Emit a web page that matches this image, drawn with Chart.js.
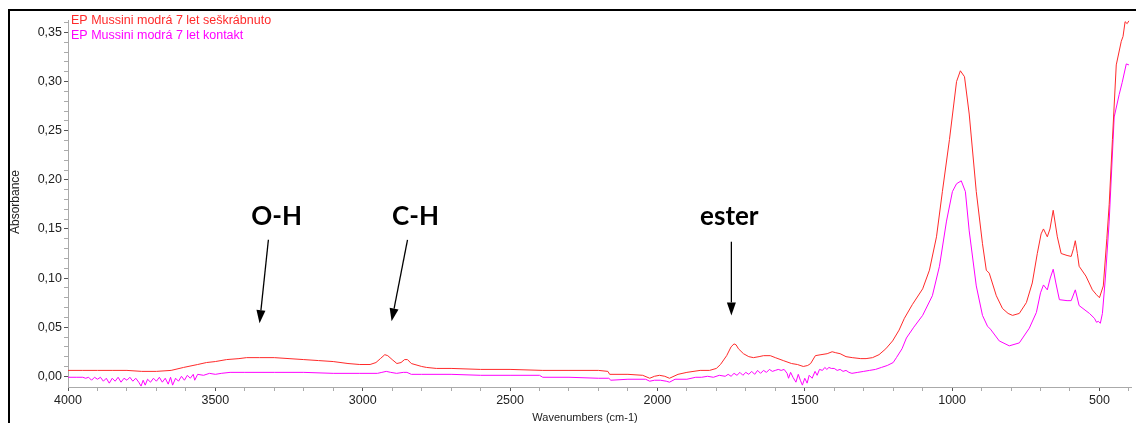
<!DOCTYPE html>
<html>
<head>
<meta charset="utf-8">
<title>EP Mussini modrá 7 let</title>
<script src="https://cdn.jsdelivr.net/npm/chart.js@4/dist/chart.umd.min.js"></script>
<style>
  body { margin: 0; background: #fff; }
  #frame {
    position: absolute; left: 8px; top: 9px;
    width: 1126px; height: 412px;
    border-left: 2px solid #000; border-top: 2px solid #000;
  }
  #spectrum { display: block; }
</style>
</head>
<body>
<div id="frame"><canvas id="spectrum" width="1126" height="412"></canvas></div>
<script>
// Series names
const seriesLabels = ["EP Mussini modrá 7 let seškrábnuto", "EP Mussini modrá 7 let kontakt"];
const seriesColors = ["#ff2a2a", "#ff00ff"];

// Scraped sample (red)
const scrapedWn = [
  4000, 3950, 3900, 3850, 3800, 3750, 3700, 3650, 3608, 3560, 3530, 3500, 3462, 3420, 3394, 3350,
  3300, 3250, 3200, 3150, 3100, 3050, 3010, 2975, 2955, 2940, 2925, 2915, 2900, 2884, 2870, 2858,
  2848, 2835, 2800, 2783, 2750, 2700, 2600, 2500, 2389, 2300, 2200, 2168, 2162, 2100, 2050, 2026,
  2010, 1993, 1975, 1959, 1930, 1900, 1855, 1823, 1800, 1786, 1765, 1750, 1740, 1733, 1725, 1708,
  1690, 1674, 1655, 1640, 1617, 1600, 1573, 1545, 1525, 1505, 1490, 1480, 1464, 1445, 1424, 1407,
  1395, 1380, 1360, 1339, 1310, 1292, 1270, 1248, 1225, 1202, 1180, 1162, 1135, 1100, 1077, 1053,
  1033, 1009, 985, 972, 958, 942, 918, 897, 884, 874, 850, 829, 810, 795, 772, 748,
  728, 711, 698, 690, 677, 668, 657, 643, 630, 610, 596, 588, 582, 575, 569, 546,
  524, 510, 500, 487, 475, 467, 456, 443, 426, 420, 413, 406, 400
];
const scrapedAbs = [
  0.006, 0.006, 0.006, 0.006, 0.006, 0.005, 0.005, 0.006, 0.009, 0.012, 0.014, 0.015, 0.017, 0.018, 0.019, 0.019,
  0.019, 0.018, 0.017, 0.016, 0.015, 0.013, 0.012, 0.012, 0.014, 0.018, 0.022, 0.021, 0.017, 0.013, 0.014, 0.017,
  0.017, 0.013, 0.010, 0.009, 0.008, 0.008, 0.007, 0.007, 0.006, 0.006, 0.006, 0.005, 0.002, 0.002, 0.001, -0.002,
  0.000, 0.001, 0.000, -0.002, 0.002, 0.004, 0.006, 0.006, 0.008, 0.012, 0.021, 0.030, 0.033, 0.032, 0.028, 0.023,
  0.020, 0.019, 0.020, 0.021, 0.021, 0.019, 0.016, 0.013, 0.012, 0.010, 0.011, 0.013, 0.021, 0.022, 0.023, 0.025,
  0.024, 0.023, 0.020, 0.019, 0.018, 0.018, 0.019, 0.022, 0.028, 0.036, 0.047, 0.059, 0.073, 0.089, 0.108, 0.142,
  0.188, 0.241, 0.300, 0.311, 0.305, 0.267, 0.188, 0.135, 0.108, 0.105, 0.082, 0.069, 0.064, 0.062, 0.064, 0.075,
  0.095, 0.125, 0.145, 0.150, 0.142, 0.150, 0.169, 0.142, 0.125, 0.123, 0.122, 0.130, 0.138, 0.125, 0.112, 0.102,
  0.088, 0.083, 0.080, 0.092, 0.140, 0.175, 0.241, 0.317, 0.341, 0.346, 0.361, 0.359, 0.362
];

// Contact sample (magenta)
const contactWn = [
  4000, 3970, 3950, 3940, 3930, 3920, 3910, 3900, 3890, 3880, 3870, 3860, 3850, 3840, 3830, 3820,
  3810, 3800, 3790, 3780, 3770, 3760, 3752, 3745, 3738, 3730, 3720, 3710, 3700, 3690, 3680, 3670,
  3660, 3652, 3645, 3635, 3625, 3615, 3605, 3595, 3585, 3575, 3570, 3560, 3540, 3520, 3500, 3480,
  3450, 3400, 3300, 3200, 3100, 3010, 2950, 2935, 2920, 2905, 2885, 2862, 2850, 2835, 2800, 2700,
  2600, 2500, 2400, 2389, 2300, 2200, 2165, 2158, 2100, 2040, 2026, 2010, 1990, 1970, 1959, 1940,
  1900, 1870, 1850, 1830, 1810, 1790, 1770, 1760, 1750, 1740, 1730, 1720, 1710, 1700, 1690, 1680,
  1670, 1660, 1650, 1640, 1630, 1620, 1610, 1600, 1590, 1580, 1570, 1560, 1555, 1548, 1540, 1530,
  1522, 1515, 1508, 1500, 1492, 1485, 1475, 1465, 1458, 1450, 1440, 1432, 1425, 1418, 1410, 1400,
  1390, 1380, 1370, 1360, 1350, 1340, 1320, 1300, 1280, 1260, 1240, 1220, 1200, 1189, 1170, 1155,
  1130, 1100, 1067, 1043, 1019, 999, 985, 969, 955, 942, 918, 897, 880, 870, 840, 806,
  772, 738, 714, 700, 690, 677, 667, 657, 648, 636, 610, 596, 582, 569, 534, 517,
  510, 504, 497, 490, 480, 467, 450, 433, 423, 409, 400
];
const contactAbs = [
  -0.001, -0.001, -0.001, -0.002, -0.001, -0.004, -0.001, -0.003, -0.001, -0.005, -0.002, -0.007, -0.002, -0.005, -0.001, -0.006,
  -0.002, -0.004, -0.001, -0.005, -0.002, -0.006, -0.010, -0.004, -0.009, -0.003, -0.006, -0.002, -0.005, -0.001, -0.006, -0.002,
  -0.008, -0.001, -0.009, -0.002, -0.005, 0.000, -0.004, 0.001, -0.002, 0.002, -0.004, 0.002, 0.001, 0.003, 0.002, 0.003,
  0.004, 0.004, 0.004, 0.004, 0.003, 0.003, 0.003, 0.004, 0.005, 0.004, 0.003, 0.004, 0.004, 0.002, 0.002, 0.002,
  0.001, 0.001, 0.001, -0.001, -0.001, -0.002, -0.002, -0.004, -0.003, -0.003, -0.005, -0.004, -0.004, -0.005, -0.006, -0.003,
  -0.003, -0.001, -0.001, 0.000, -0.001, 0.001, 0.000, 0.002, 0.000, 0.003, 0.001, 0.004, 0.001, 0.004, 0.002, 0.005,
  0.002, 0.006, 0.003, 0.006, 0.004, 0.007, 0.005, 0.006, 0.007, 0.006, 0.007, 0.003, -0.002, 0.004, -0.001, -0.006,
  0.002, -0.004, -0.009, -0.002, -0.007, 0.001, -0.002, 0.005, 0.001, 0.007, 0.006, 0.009, 0.007, 0.009, 0.008, 0.008,
  0.006, 0.007, 0.005, 0.006, 0.004, 0.003, 0.004, 0.005, 0.006, 0.007, 0.009, 0.011, 0.014, 0.019, 0.028, 0.039,
  0.050, 0.062, 0.082, 0.112, 0.158, 0.188, 0.196, 0.199, 0.188, 0.148, 0.092, 0.062, 0.051, 0.048, 0.036, 0.031,
  0.034, 0.049, 0.065, 0.085, 0.093, 0.088, 0.100, 0.109, 0.095, 0.078, 0.077, 0.077, 0.088, 0.072, 0.064, 0.059,
  0.055, 0.056, 0.054, 0.064, 0.100, 0.158, 0.264, 0.287, 0.299, 0.318, 0.317
];

// Axis ranges and tick spacing
const xRange = [393, 4000];
const yRange = [-0.0109, 0.3622];
const xTickValues = [];
for (let v = 4000; v >= 400; v -= 100) xTickValues.push(v);
const yTickValues = [];
for (let i = 0; i <= 36; i++) yTickValues.push(i / 100);

// Band labels with arrows: [text, label wn, label abs, arrow from wn/abs, arrow to wn/abs]
const bandNotes = [
  ["O-H", 3292, 0.154, 3320, 0.139, 3350, 0.054],
  ["C-H", 2821, 0.154, 2848, 0.139, 2902, 0.056],
  ["ester", 1756, 0.154, 1749, 0.137, 1749, 0.062]
];

const toPoints = (xs, ys) => xs.map((x, i) => ({ x: x, y: ys[i] }));
const isMajorX = (v) => v % 500 === 0;
const isMajorY = (v) => Math.round(v * 100) % 5 === 0;

const textPlugin = {
  id: "spectrumText",
  afterDraw(chart) {
    const ctx = chart.ctx;
    const area = chart.chartArea;
    const xs = chart.scales.x;
    const ys = chart.scales.y;
    ctx.save();

    // legend lines inside the plot
    ctx.font = "12.5px 'Liberation Sans', Arial, sans-serif";
    ctx.textBaseline = "middle";
    ctx.textAlign = "left";
    seriesLabels.forEach((lbl, i) => {
      ctx.fillStyle = seriesColors[i];
      ctx.fillText(lbl, area.left + 3, 10 + i * 14.5);
    });

    // axis titles
    ctx.fillStyle = "#222";
    ctx.font = "11px 'Liberation Sans', Arial, sans-serif";
    ctx.textAlign = "center";
    ctx.fillText("Wavenumbers (cm-1)", 575, 407);
    ctx.font = "12px 'Liberation Sans', Arial, sans-serif";
    ctx.save();
    ctx.translate(6, 191);
    ctx.rotate(-Math.PI / 2);
    ctx.fillText("Absorbance", 0, 0);
    ctx.restore();

    // band annotations
    ctx.font = "bold 26px Lato, 'Liberation Sans', sans-serif";
    ctx.textBaseline = "alphabetic";
    ctx.fillStyle = "#000";
    ctx.strokeStyle = "#000";
    ctx.lineWidth = 1.3;
    bandNotes.forEach((n) => {
      ctx.fillText(n[0], xs.getPixelForValue(n[1]), ys.getPixelForValue(n[2]));
      const x1 = xs.getPixelForValue(n[3]), y1 = ys.getPixelForValue(n[4]);
      const x2 = xs.getPixelForValue(n[5]), y2 = ys.getPixelForValue(n[6]);
      const ang = Math.atan2(y2 - y1, x2 - x1);
      const head = 13, half = 4.5;
      const bx = x2 - head * Math.cos(ang), by = y2 - head * Math.sin(ang);
      ctx.beginPath();
      ctx.moveTo(x1, y1);
      ctx.lineTo(bx, by);
      ctx.stroke();
      ctx.beginPath();
      ctx.moveTo(x2, y2);
      ctx.lineTo(bx + half * Math.sin(ang), by - half * Math.cos(ang));
      ctx.lineTo(bx - half * Math.sin(ang), by + half * Math.cos(ang));
      ctx.closePath();
      ctx.fill();
    });
    ctx.restore();
  }
};

new Chart(document.getElementById("spectrum").getContext("2d"), {
  type: "line",
  data: {
    datasets: [
      { label: seriesLabels[0], data: toPoints(scrapedWn, scrapedAbs), borderColor: seriesColors[0] },
      { label: seriesLabels[1], data: toPoints(contactWn, contactAbs), borderColor: seriesColors[1] }
    ]
  },
  options: {
    responsive: false,
    animation: false,
    events: [],
    layout: { padding: { top: 0, right: 5, bottom: 0, left: 0 } },
    elements: {
      line: { borderWidth: 1, tension: 0, fill: false },
      point: { radius: 0 }
    },
    plugins: { legend: { display: false }, tooltip: { enabled: false } },
    scales: {
      x: {
        type: "linear",
        reverse: true,
        min: xRange[0],
        max: xRange[1],
        afterBuildTicks: (scale) => { scale.ticks = xTickValues.map((v) => ({ value: v })); },
        afterFit: (scale) => { scale.height = 36; },
        border: { display: true, color: "#aaa", width: 1 },
        grid: {
          drawOnChartArea: false,
          tickLength: 4,
          tickColor: (c) => (c.tick && isMajorX(c.tick.value) ? "#555" : "#aaa")
        },
        ticks: {
          autoSkip: false,
          maxRotation: 0,
          padding: 2,
          color: "#222",
          font: { family: "'Liberation Sans', Arial, sans-serif", size: 12.5 },
          callback: (v) => (isMajorX(v) ? String(v) : "")
        }
      },
      y: {
        type: "linear",
        min: yRange[0],
        max: yRange[1],
        afterBuildTicks: (scale) => { scale.ticks = yTickValues.map((v) => ({ value: v })); },
        afterFit: (scale) => { scale.width = 58; },
        border: { display: true, color: "#aaa", width: 1 },
        grid: {
          drawOnChartArea: false,
          tickLength: 4,
          tickColor: (c) => (c.tick && isMajorY(c.tick.value) ? "#555" : "#aaa")
        },
        ticks: {
          autoSkip: false,
          padding: 2,
          color: "#222",
          font: { family: "'Liberation Sans', Arial, sans-serif", size: 12.5 },
          callback: (v) => (isMajorY(v) ? v.toFixed(2).replace(".", ",") : "")
        }
      }
    }
  },
  plugins: [textPlugin]
});
</script>
</body>
</html>
